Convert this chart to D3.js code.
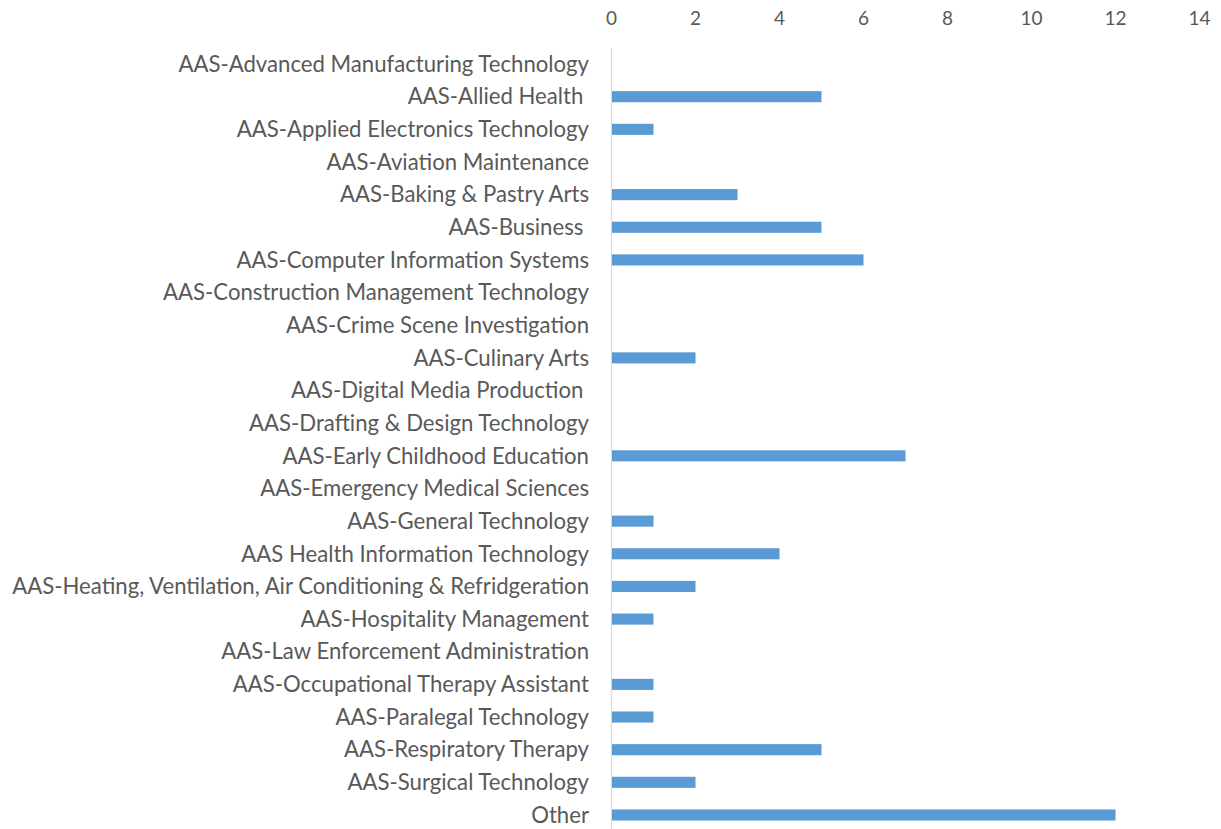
<!DOCTYPE html>
<html>
<head>
<meta charset="utf-8">
<script src="https://cdn.jsdelivr.net/npm/d3@7"></script>
<style>
  body { margin: 0; background: #fff; }
  svg text { font-family: Lato, "Open Sans", sans-serif; fill: #595959; white-space: pre; }
</style>
</head>
<body>
<div id="chart"></div>
<script>
// categories and counts
const programs = [
  "AAS-Advanced Manufacturing Technology",
  "AAS-Allied Health ",
  "AAS-Applied Electronics Technology",
  "AAS-Aviation Maintenance",
  "AAS-Baking & Pastry Arts",
  "AAS-Business ",
  "AAS-Computer Information Systems",
  "AAS-Construction Management Technology",
  "AAS-Crime Scene Investigation",
  "AAS-Culinary Arts",
  "AAS-Digital Media Production ",
  "AAS-Drafting & Design Technology",
  "AAS-Early Childhood Education",
  "AAS-Emergency Medical Sciences",
  "AAS-General Technology",
  "AAS Health Information Technology",
  "AAS-Heating, Ventilation, Air Conditioning & Refridgeration",
  "AAS-Hospitality Management",
  "AAS-Law Enforcement Administration",
  "AAS-Occupational Therapy Assistant",
  "AAS-Paralegal Technology",
  "AAS-Respiratory Therapy",
  "AAS-Surgical Technology",
  "Other"
];
const counts = [0, 5, 1, 0, 3, 5, 6, 0, 0, 2, 0, 0, 7, 0, 1, 4, 2, 1, 0, 1, 1, 5, 2, 12];
const xTicks = [0, 2, 4, 6, 8, 10, 12, 14];

const width = 1221, height = 829;
const x0 = 611.5, x1 = 1199.5;

const svg = d3.select("#chart").append("svg")
    .attr("width", width)
    .attr("height", height);

const x = d3.scaleLinear().domain([0, 14]).range([x0, x1]);
const y = d3.scaleBand().domain(programs).range([47.7, 831.3]).paddingInner(0.66).paddingOuter(0.33);

// bars
svg.append("g").selectAll("rect")
    .data(programs)
    .enter().append("rect")
    .attr("x", x(0) + 0.5)
    .attr("y", d => y(d))
    .attr("width", (d, i) => Math.max(0, x(counts[i]) - x(0) - 0.5))
    .attr("height", y.bandwidth())
    .attr("fill", "#5b9bd5");

// vertical axis line
svg.append("line")
    .attr("x1", x0).attr("x2", x0)
    .attr("y1", 48).attr("y2", height)
    .attr("stroke", "#d9d9d9")
    .attr("stroke-width", 1);

// top tick labels
svg.append("g").selectAll("text")
    .data(xTicks)
    .enter().append("text")
    .attr("x", d => x(d))
    .attr("y", 18)
    .attr("dy", "0.35em")
    .attr("text-anchor", "middle")
    .style("font-size", "19px")
    .text(d => d);

// category labels
const labels = svg.append("g").selectAll("text")
    .data(programs)
    .enter().append("text")
    .attr("x", 589)
    .attr("y", d => y(d) + y.bandwidth() / 2)
    .attr("dy", "0.35em")
    .attr("text-anchor", "end")
    .style("font-size", "20px")
    .text(d => d);

// fit the longest label to the width it has in the reference
const longest = labels.filter((d, i) => i === 16).node().getComputedTextLength();
const fs = 20 * 577 / longest;
labels.style("font-size", fs + "px");
</script>
</body>
</html>
